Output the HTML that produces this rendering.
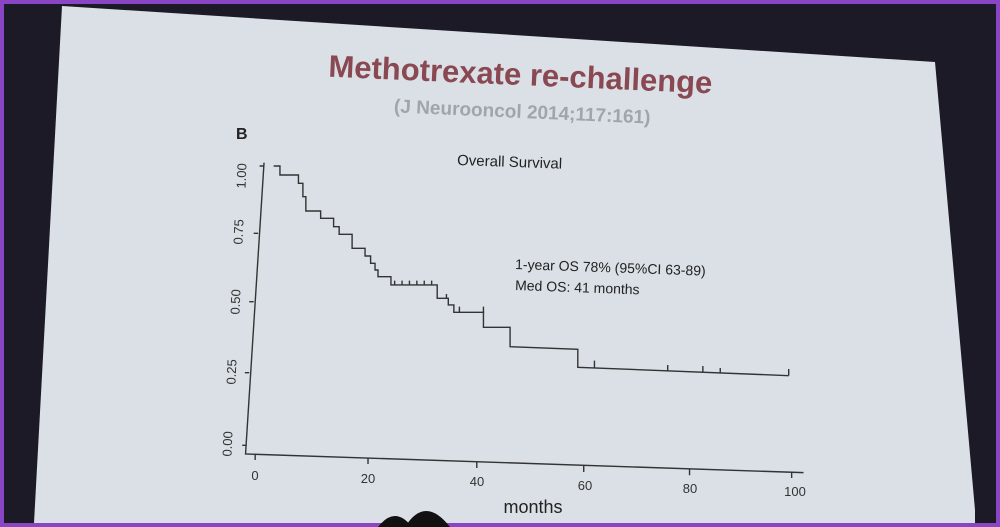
<!DOCTYPE html>
<html><head><meta charset="utf-8"><style>
html,body{margin:0;padding:0;width:1000px;height:527px;overflow:hidden;background:#8a45c4;}
svg{display:block}
text{font-family:"Liberation Sans",sans-serif;}
</style></head><body>
<svg width="1000" height="527" viewBox="0 0 1000 527">
<rect x="0" y="0" width="1000" height="527" fill="#8a45c4"/>
<rect x="4" y="4" width="992" height="519" fill="#1c1a26"/>
<polygon points="62,6 935,62 975,510 975,523 34,523" fill="#dae0e6"/>
<text x="520" y="85" font-size="31" font-weight="bold" fill="#8a4852" text-anchor="middle" transform="rotate(2.5 520 85)">Methotrexate re-challenge</text>
<text x="522" y="118" font-size="19" font-weight="bold" fill="#a2a4ac" text-anchor="middle" transform="rotate(2.5 522 118)">(J Neurooncol 2014;117:161)</text>
<text x="236" y="139" font-size="16" font-weight="bold" fill="#222">B</text>
<text x="457" y="165" font-size="15" fill="#222" transform="rotate(2 457 165)">Overall Survival</text>
<text x="515" y="269" font-size="14" fill="#222" transform="rotate(2 515 269)">1-year OS 78% (95%CI 63-89)</text>
<text x="515" y="290" font-size="14" fill="#222" transform="rotate(2 515 290)">Med OS: 41 months</text>
<g font-size="13" fill="#333" text-anchor="middle">
<text transform="translate(246,176) rotate(-88)">1.00</text>
<text transform="translate(243,232) rotate(-88)">0.75</text>
<text transform="translate(240,302) rotate(-88)">0.50</text>
<text transform="translate(236,372) rotate(-88)">0.25</text>
<text transform="translate(232,444) rotate(-88)">0.00</text>
<text x="255" y="480">0</text>
<text x="368" y="483">20</text>
<text x="477" y="486">40</text>
<text x="585" y="490">60</text>
<text x="690" y="493">80</text>
<text x="795" y="496">100</text>
</g>
<text x="533" y="513" font-size="18" fill="#222" text-anchor="middle">months</text>
<g transform="translate(230,150) scale(0.37,0.3333)" fill="none" stroke="#333" stroke-width="1.4" vector-effect="non-scaling-stroke">
<path vector-effect="non-scaling-stroke" d="M92,38 L42,912 L1550,968"/>
<path vector-effect="non-scaling-stroke" d="M92,48 L80,48 M76,250 L64,250 M64,455 L52,455 M52,668 L40,668 M45,886 L33,886 M68,912 L68,930 M373,924 L373,942 M667,936 L667,954 M956,948 L956,966 M1242,958 L1242,976 M1518,966 L1518,984"/>
<path vector-effect="non-scaling-stroke" d="M118,48 L135,48 L135,75 L185,75 L185,100 L197,100 L197,140 L205,140 L205,183 L245,183 L245,205 L280,205 L280,230 L295,230 L295,253 L330,253 L330,295 L365,295 L365,318 L380,318 L380,340 L392,340 L392,360 L400,360 L400,380 L435,380 L435,405 L560,405 L560,445 L590,445 L590,465 L605,465 L605,487 L685,487 L685,532 L757,532 L757,590 L940,598 L940,652 L1510,677"/>
<path vector-effect="non-scaling-stroke" d="M445,405 L445,392 M465,405 L465,392 M485,405 L485,392 M505,405 L505,392 M525,405 L525,392 M545,405 L545,392 M585,445 L585,432 M620,487 L620,470 M685,487 L685,470 M985,653 L985,632 M1183,662 L1183,645 M1278,666 L1278,648 M1325,668 L1325,654 M1510,677 L1510,657"/>
</g>
<path d="M378,527 Q395,505 412,527 Z M405,527 Q425,495 450,527 Z" fill="#111"/>
</svg>
</body></html>
